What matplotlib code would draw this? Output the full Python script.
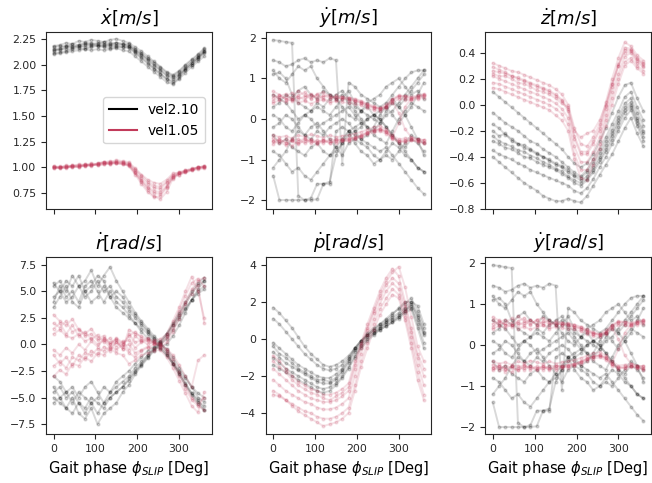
import numpy as np
import matplotlib
matplotlib.use("Agg")
import matplotlib.pyplot as plt
from matplotlib.lines import Line2D

# gait phase samples (deg)
phase = [0, 15, 30, 45, 60, 75, 90, 105, 120, 135, 150, 165, 180,
         195, 210, 225, 240, 255, 270, 285, 300, 315, 330, 345, 360]

# --- x velocity [m/s]
xd_fast = [
    [2.18, 2.19, 2.21, 2.20, 2.23, 2.22, 2.24, 2.23, 2.22, 2.24, 2.25, 2.23, 2.21, 2.17, 2.13, 2.08, 2.03, 1.98, 1.93, 1.90, 1.94, 2.00, 2.05, 2.10, 2.16],
    [2.10, 2.11, 2.12, 2.13, 2.14, 2.15, 2.14, 2.15, 2.14, 2.15, 2.16, 2.14, 2.13, 2.08, 2.03, 1.98, 1.93, 1.88, 1.83, 1.81, 1.86, 1.92, 1.98, 2.03, 2.08],
    [2.15, 2.14, 2.17, 2.18, 2.17, 2.19, 2.20, 2.18, 2.19, 2.20, 2.19, 2.19, 2.18, 2.13, 2.09, 2.04, 1.99, 1.94, 1.89, 1.86, 1.90, 1.96, 2.02, 2.07, 2.13],
    [2.11, 2.12, 2.13, 2.15, 2.16, 2.15, 2.17, 2.18, 2.17, 2.16, 2.17, 2.17, 2.16, 2.11, 2.06, 2.01, 1.96, 1.91, 1.86, 1.84, 1.89, 1.95, 2.00, 2.05, 2.11],
    [2.17, 2.18, 2.18, 2.20, 2.19, 2.21, 2.21, 2.20, 2.22, 2.21, 2.21, 2.20, 2.20, 2.14, 2.10, 2.05, 2.00, 1.95, 1.90, 1.88, 1.91, 1.97, 2.02, 2.07, 2.13],
    [2.13, 2.15, 2.15, 2.16, 2.18, 2.17, 2.18, 2.19, 2.18, 2.18, 2.18, 2.17, 2.17, 2.12, 2.07, 2.02, 1.96, 1.91, 1.86, 1.82, 1.87, 1.95, 2.00, 2.06, 2.12],
    [2.14, 2.16, 2.18, 2.17, 2.19, 2.20, 2.19, 2.21, 2.20, 2.19, 2.21, 2.20, 2.18, 2.15, 2.11, 2.06, 2.02, 1.97, 1.92, 1.89, 1.93, 1.99, 2.04, 2.09, 2.15],
]
xd_slow = [
    [1.00, 1.01, 0.99, 1.02, 1.00, 1.03, 1.01, 1.04, 1.05, 1.03, 1.06, 1.05, 1.04, 0.98, 0.92, 0.86, 0.82, 0.81, 0.86, 0.93, 0.95, 0.97, 0.99, 1.00, 1.01],
    [0.99, 1.00, 1.01, 1.00, 1.02, 1.01, 1.03, 1.02, 1.03, 1.05, 1.04, 1.03, 1.02, 0.95, 0.87, 0.80, 0.75, 0.74, 0.81, 0.91, 0.93, 0.95, 0.97, 0.98, 0.99],
    [1.01, 0.99, 1.00, 1.01, 1.01, 1.02, 1.02, 1.03, 1.04, 1.04, 1.05, 1.05, 1.03, 0.97, 0.90, 0.84, 0.80, 0.79, 0.85, 0.92, 0.94, 0.96, 0.98, 1.00, 1.01],
    [1.00, 1.00, 1.01, 1.01, 1.00, 1.02, 1.03, 1.02, 1.03, 1.04, 1.04, 1.04, 1.02, 0.94, 0.86, 0.78, 0.72, 0.69, 0.76, 0.89, 0.93, 0.95, 0.97, 0.99, 1.00],
    [0.99, 1.00, 1.00, 1.02, 1.02, 1.03, 1.02, 1.04, 1.05, 1.05, 1.07, 1.06, 1.05, 0.99, 0.93, 0.88, 0.85, 0.84, 0.88, 0.94, 0.95, 0.97, 0.98, 1.00, 1.00],
    [1.00, 0.99, 1.00, 1.00, 1.01, 1.01, 1.02, 1.03, 1.04, 1.03, 1.04, 1.03, 1.03, 0.95, 0.88, 0.81, 0.77, 0.76, 0.82, 0.91, 0.94, 0.96, 0.98, 0.99, 1.00],
    [1.01, 1.00, 1.02, 1.01, 1.03, 1.02, 1.04, 1.03, 1.05, 1.06, 1.05, 1.04, 1.01, 0.93, 0.84, 0.76, 0.71, 0.72, 0.80, 0.90, 0.94, 0.96, 0.98, 1.00, 1.01],
]

# --- lateral velocity [m/s] (also used for yaw rate panel)
yd_fast = [
    [1.95, 1.93, 1.90, 1.88, -1.90, -2.00, -2.00, -1.98, -1.60, -1.60, -0.30, -0.20, -0.30, -0.40, -0.50, -0.60, -0.70, -0.80, -0.70, -0.90, -1.10, -1.30, -1.50, -1.70, -1.85],
    [1.45, 1.40, 1.30, 1.35, 1.45, 1.50, 1.40, 1.45, 1.40, 1.50, 1.45, -1.10, 0.90, 0.80, 0.60, 0.50, 0.40, 0.30, 0.40, 0.60, 0.80, 1.00, 1.15, 1.20, 1.20],
    [-1.40, -2.00, -2.00, -2.00, -2.00, -2.00, -1.95, -1.60, -1.60, -1.55, -0.90, -0.60, -0.30, -0.20, -0.10, 0.00, 0.10, 0.00, -0.20, -0.40, -0.60, -0.80, -1.00, -1.20, -1.30],
    [1.10, 1.15, 1.00, 0.60, 0.40, 0.30, 0.20, 0.30, 0.20, 0.10, 0.30, 0.50, 0.70, 0.40, 0.20, 0.10, 0.00, -0.10, 0.20, 0.40, 0.30, 0.50, 0.70, 0.90, 1.10],
    [-1.20, -1.00, -0.80, -0.50, -0.30, -0.40, -0.20, -0.10, -0.30, -0.50, -0.70, -0.90, -0.60, -0.50, -0.60, -0.70, -0.90, -1.00, -0.80, -0.60, -0.70, -0.90, -1.00, -1.20, -1.30],
    [0.60, 0.50, 0.40, 0.20, 0.00, 0.10, 0.00, -0.20, -0.10, 0.00, 0.10, 0.20, 0.30, 0.10, -0.10, -0.20, -0.40, -0.50, -0.60, -0.30, 0.00, 0.20, 0.40, 0.30, 0.20],
    [0.10, 0.00, -0.20, -0.30, -0.10, 0.10, 0.20, 0.40, 0.30, 0.50, 0.60, 0.70, 0.50, 0.30, 0.20, 0.30, 0.10, 0.00, -0.20, -0.40, -0.60, -0.70, -0.50, -0.60, -0.80],
    [-0.40, -0.60, -0.50, -0.70, -0.80, -0.90, -0.70, -0.60, -0.80, -0.90, -0.80, -0.60, -0.40, -0.30, -0.20, 0.00, 0.10, 0.20, 0.30, 0.10, -0.10, 0.10, 0.30, 0.60, 0.90],
    [1.20, 1.00, 0.90, 1.10, 1.30, 1.20, 1.30, 1.00, 0.80, 0.60, 0.50, 0.30, 0.10, 0.00, 0.20, 0.40, 0.50, 0.60, 0.80, 0.90, 1.00, 0.80, 0.60, 0.70, 0.50],
    [-0.80, -0.90, -1.10, -1.30, -1.20, -1.40, -1.50, -1.30, -1.10, -0.90, -0.70, -0.50, -0.30, -0.60, -0.80, -0.90, -1.10, -1.00, -0.90, -1.00, -0.80, -0.60, -0.40, -0.50, -0.60],
    [0.30, 0.40, 0.60, 0.50, 0.70, 0.80, 0.60, 0.50, 0.70, 0.60, 0.50, 0.60, 0.40, 0.20, 0.00, -0.20, -0.30, -0.10, 0.10, 0.20, 0.40, 0.60, 0.80, 1.00, 1.20],
    [-0.20, -0.10, 0.10, 0.00, -0.20, -0.40, -0.50, -0.30, -0.40, -0.20, -0.10, 0.00, -0.10, -0.30, -0.50, -0.40, -0.20, 0.10, 0.30, 0.50, 0.30, 0.10, -0.20, -0.50, -0.90],
]
yd_slow = [
    [0.60, 0.50, 0.55, 0.65, 0.50, 0.55, 0.62, 0.48, 0.55, 0.60, 0.52, 0.50, 0.52, 0.48, 0.43, 0.36, 0.30, 0.25, 0.32, 0.47, 0.57, 0.56, 0.52, 0.56, 0.60],
    [0.45, 0.55, 0.62, 0.48, 0.58, 0.66, 0.52, 0.60, 0.50, 0.45, 0.58, 0.55, 0.48, 0.45, 0.40, 0.33, 0.28, 0.24, 0.30, 0.46, 0.55, 0.52, 0.50, 0.53, 0.56],
    [0.68, 0.60, 0.48, 0.55, 0.70, 0.58, 0.50, 0.62, 0.66, 0.55, 0.48, 0.55, 0.53, 0.50, 0.45, 0.38, 0.32, 0.28, 0.36, 0.50, 0.58, 0.57, 0.55, 0.58, 0.62],
    [0.52, 0.58, 0.50, 0.45, 0.55, 0.48, 0.60, 0.52, 0.58, 0.52, 0.55, 0.50, 0.47, 0.44, 0.40, 0.33, 0.28, 0.26, 0.30, 0.42, 0.15, -0.25, -0.45, -0.50, -0.52],
    [0.40, 0.46, 0.42, 0.50, 0.40, 0.45, 0.38, 0.44, 0.48, 0.40, 0.45, 0.42, 0.40, 0.38, 0.34, 0.28, 0.22, 0.20, 0.26, 0.40, 0.50, 0.48, 0.46, 0.50, 0.52],
    [-0.55, -0.60, -0.50, -0.55, -0.62, -0.50, -0.55, -0.58, -0.52, -0.55, -0.60, -0.55, -0.52, -0.48, -0.42, -0.35, -0.29, -0.25, -0.32, -0.47, -0.55, -0.52, -0.50, -0.53, -0.56],
    [-0.62, -0.52, -0.58, -0.66, -0.55, -0.48, -0.60, -0.52, -0.60, -0.50, -0.52, -0.50, -0.48, -0.45, -0.40, -0.32, -0.27, -0.24, -0.30, -0.45, -0.54, -0.56, -0.53, -0.55, -0.60],
    [-0.48, -0.55, -0.65, -0.52, -0.50, -0.60, -0.52, -0.62, -0.55, -0.58, -0.55, -0.53, -0.55, -0.50, -0.45, -0.38, -0.33, -0.30, -0.36, -0.50, -0.58, -0.55, -0.52, -0.56, -0.58],
    [-0.55, -0.50, -0.58, -0.52, -0.60, -0.55, -0.50, -0.56, -0.52, -0.60, -0.50, -0.52, -0.50, -0.46, -0.41, -0.34, -0.28, -0.26, -0.31, -0.44, -0.10, 0.30, 0.50, 0.55, 0.58],
    [-0.40, -0.45, -0.42, -0.48, -0.40, -0.44, -0.38, -0.42, -0.46, -0.40, -0.45, -0.42, -0.40, -0.36, -0.32, -0.26, -0.20, -0.18, -0.25, -0.40, -0.50, -0.48, -0.46, -0.50, -0.52],
]

# --- vertical velocity [m/s]
zd_fast = [
    [0.10, 0.06, 0.02, -0.02, -0.06, -0.10, -0.14, -0.18, -0.22, -0.26, -0.30, -0.34, -0.40, -0.45, -0.48, -0.45, -0.38, -0.28, -0.18, -0.06, 0.06, 0.15, 0.17, 0.05, -0.05],
    [-0.06, -0.10, -0.14, -0.17, -0.20, -0.24, -0.28, -0.30, -0.34, -0.37, -0.40, -0.44, -0.48, -0.52, -0.55, -0.50, -0.42, -0.34, -0.25, -0.15, -0.05, 0.06, 0.10, -0.02, -0.12],
    [-0.20, -0.24, -0.22, -0.28, -0.30, -0.33, -0.35, -0.38, -0.40, -0.43, -0.46, -0.48, -0.52, -0.55, -0.58, -0.55, -0.48, -0.40, -0.31, -0.22, -0.12, -0.02, 0.02, -0.10, -0.20],
    [-0.28, -0.30, -0.33, -0.34, -0.37, -0.40, -0.41, -0.44, -0.46, -0.48, -0.50, -0.53, -0.56, -0.60, -0.62, -0.58, -0.52, -0.44, -0.36, -0.27, -0.17, -0.06, -0.02, -0.14, -0.25],
    [-0.35, -0.38, -0.40, -0.42, -0.45, -0.47, -0.50, -0.52, -0.54, -0.56, -0.58, -0.60, -0.62, -0.66, -0.68, -0.64, -0.57, -0.48, -0.40, -0.30, -0.20, -0.10, -0.04, -0.16, -0.28],
    [-0.40, -0.44, -0.48, -0.52, -0.56, -0.60, -0.63, -0.66, -0.70, -0.72, -0.74, -0.74, -0.72, -0.74, -0.75, -0.70, -0.62, -0.54, -0.46, -0.38, -0.28, -0.18, -0.10, -0.22, -0.32],
    [-0.15, -0.18, -0.23, -0.26, -0.30, -0.31, -0.34, -0.37, -0.40, -0.42, -0.45, -0.47, -0.50, -0.54, -0.56, -0.52, -0.45, -0.37, -0.28, -0.19, -0.09, 0.01, 0.05, -0.06, -0.16],
    [-0.24, -0.28, -0.30, -0.32, -0.35, -0.36, -0.39, -0.41, -0.44, -0.46, -0.49, -0.51, -0.55, -0.58, -0.60, -0.57, -0.50, -0.42, -0.34, -0.24, -0.14, -0.04, 0.00, -0.12, -0.22],
]
zd_slow = [
    [0.32, 0.30, 0.28, 0.26, 0.25, 0.23, 0.21, 0.19, 0.17, 0.15, 0.12, 0.08, 0.00, -0.18, -0.30, -0.32, -0.25, -0.15, 0.02, 0.20, 0.36, 0.48, 0.45, 0.38, 0.34],
    [0.26, 0.25, 0.24, 0.22, 0.20, 0.18, 0.16, 0.14, 0.12, 0.10, 0.07, 0.03, -0.05, -0.26, -0.38, -0.38, -0.30, -0.20, -0.03, 0.14, 0.30, 0.42, 0.42, 0.35, 0.31],
    [0.22, 0.20, 0.18, 0.16, 0.14, 0.12, 0.10, 0.08, 0.06, 0.04, 0.01, -0.03, -0.10, -0.32, -0.44, -0.44, -0.36, -0.25, -0.08, 0.10, 0.24, 0.37, 0.40, 0.32, 0.29],
    [0.17, 0.16, 0.14, 0.12, 0.10, 0.08, 0.06, 0.04, 0.02, 0.00, -0.03, -0.07, -0.15, -0.38, -0.50, -0.50, -0.42, -0.30, -0.12, 0.05, 0.20, 0.33, 0.36, 0.30, 0.26],
    [0.29, 0.27, 0.25, 0.22, 0.21, 0.19, 0.17, 0.15, 0.13, 0.11, 0.08, 0.04, -0.03, -0.24, -0.36, -0.36, -0.28, -0.18, -0.01, 0.16, 0.31, 0.44, 0.43, 0.36, 0.32],
    [0.13, 0.12, 0.10, 0.08, 0.06, 0.04, 0.02, 0.00, -0.02, -0.04, -0.08, -0.12, -0.20, -0.42, -0.56, -0.58, -0.46, -0.34, -0.16, 0.00, 0.16, 0.30, 0.34, 0.28, 0.24],
    [0.24, 0.22, 0.22, 0.20, 0.17, 0.16, 0.14, 0.11, 0.10, 0.08, 0.05, 0.01, -0.02, -0.20, -0.25, -0.22, -0.20, -0.12, 0.00, 0.16, 0.30, 0.40, 0.41, 0.34, 0.30],
]

# --- roll rate [rad/s]
rd_fast = [
    [5.5, 6.0, 5.0, 6.5, 5.5, 6.0, 7.0, 5.5, 6.5, 7.3, 6.0, 5.0, 4.0, 3.0, 2.2, 1.5, 0.8, 0.2, -0.6, -1.6, -2.6, -3.6, -4.6, -5.4, -5.8],
    [4.5, 5.0, 4.0, 4.5, 5.5, 4.5, 5.0, 6.0, 5.0, 5.5, 4.5, 4.0, 3.2, 2.5, 1.8, 1.2, 0.5, 0.0, -0.8, -1.8, -2.8, -3.8, -4.8, -5.6, -6.2],
    [3.5, 4.5, 5.5, 4.0, 3.5, 5.0, 4.0, 4.5, 5.5, 4.5, 3.5, 3.0, 2.5, 2.0, 1.5, 1.0, 0.3, -0.3, -1.0, -1.8, -2.5, -3.2, -4.0, -4.6, -5.0],
    [5.8, 5.0, 6.0, 5.5, 6.5, 5.0, 5.5, 6.5, 6.0, 4.5, 5.0, 4.5, 3.5, 2.8, 2.0, 1.3, 0.6, 0.0, -0.4, -1.2, -2.2, -3.0, -4.0, -5.0, -5.4],
    [4.0, 5.5, 4.5, 5.0, 4.0, 5.5, 6.0, 5.0, 4.0, 5.0, 4.0, 3.5, 2.8, 2.0, 1.2, 0.6, 0.2, -0.2, 0.0, 0.8, 1.8, 3.0, 4.2, 5.2, 6.0],
    [-5.0, -5.5, -6.0, -5.0, -6.5, -7.0, -6.0, -7.5, -6.5, -6.0, -5.5, -4.5, -3.8, -2.8, -2.0, -1.3, -0.6, 0.0, 0.8, 1.8, 2.8, 3.8, 4.8, 5.6, 6.0],
    [-4.0, -5.0, -4.5, -5.5, -4.5, -5.0, -5.5, -6.5, -5.5, -5.0, -4.5, -4.0, -3.2, -2.5, -1.8, -1.0, -0.4, 0.2, 1.0, 2.0, 3.0, 4.0, 5.0, 5.8, 6.3],
    [-3.0, -3.5, -4.5, -4.0, -5.0, -4.0, -3.5, -4.5, -5.5, -4.5, -4.0, -3.5, -3.0, -2.2, -1.6, -1.0, -0.3, 0.3, 1.0, 1.8, 2.6, 3.4, 4.2, 4.8, 5.2],
    [-5.5, -5.0, -6.0, -6.5, -5.5, -6.0, -5.0, -5.5, -6.0, -5.0, -4.5, -4.0, -3.4, -2.6, -1.9, -1.2, -0.5, 0.0, 0.5, 1.4, 2.4, 3.3, 4.2, 5.0, 5.5],
    [-4.5, -4.0, -5.0, -4.5, -5.5, -6.5, -5.5, -5.0, -4.0, -4.5, -3.5, -3.0, -2.5, -1.8, -1.2, -0.6, -0.2, -0.4, -1.0, -1.8, -2.8, -3.8, -4.6, -5.2, -6.2],
]
rd_slow = [
    [2.0, 1.6, 2.2, 1.2, 1.5, 0.8, 1.0, 0.4, 0.6, 0.2, 0.5, 0.0, 0.8, 1.2, 0.6, 0.3, 0.0, 0.2, 0.8, 1.8, 3.2, 4.6, 5.8, 6.2, 5.5],
    [1.5, 2.0, 1.0, 1.8, 0.8, 1.2, 0.5, 0.9, 0.2, 0.6, -0.2, 0.3, -0.5, 0.8, 0.3, 0.6, 0.1, -0.1, 0.6, 1.5, 2.8, 4.0, 5.2, 6.0, 6.3],
    [2.8, 2.2, 1.8, 2.4, 1.4, 1.0, 1.5, 0.6, 0.8, 0.0, 0.4, -0.4, 1.4, 1.0, 0.8, 0.5, 0.4, 0.5, 1.0, 2.2, 3.5, 5.0, 6.4, 5.0, 2.5],
    [1.0, 1.4, 0.8, 0.6, 1.0, 0.3, 0.6, 0.0, 0.4, -0.3, 0.2, -0.2, 0.0, -0.8, -0.5, -0.2, -0.4, -0.3, 0.2, 1.2, 2.4, 3.8, 4.8, 5.6, 2.0],
    [-2.0, -1.6, -2.2, -1.2, -1.5, -0.8, -1.0, -0.4, -0.6, -0.2, -0.5, 0.0, -0.8, -1.2, -0.6, -0.3, 0.0, -0.2, -0.8, -1.8, -3.0, -4.2, -5.2, -5.8, -6.2],
    [-1.0, -1.8, -1.2, -2.0, -1.0, -1.4, -0.6, -1.0, -0.2, -0.6, 0.2, -0.4, 1.0, 0.2, 0.4, 0.0, 0.3, 0.0, -0.5, -1.4, -2.6, -3.8, -5.0, -5.6, -5.0],
    [-3.0, -2.4, -2.8, -1.8, -2.0, -1.2, -1.6, -0.8, -1.0, -0.4, -0.8, -1.0, -1.8, -1.5, -1.0, -0.8, -0.6, -0.5, -1.2, -2.2, -3.4, -4.6, -5.8, -6.4, -4.5],
    [-0.5, -1.0, -0.3, -0.8, 0.0, -0.5, 0.3, -0.2, 0.5, 0.0, 0.6, 0.2, 0.4, -0.3, 0.2, 0.4, 0.2, 0.0, -0.4, -1.0, -1.9, -3.0, -4.0, -1.5, -1.0],
]

# --- pitch rate [rad/s]
pd_fast = [
    [1.7, 1.4, 1.0, 0.6, 0.1, -0.4, -0.8, -1.1, -1.4, -1.5, -1.4, -1.2, -0.9, -0.5, -0.1, 0.2, 0.5, 0.8, 1.0, 1.3, 1.7, 2.0, 2.0, 1.2, 0.3],
    [1.1, 0.8, 0.4, 0.0, -0.4, -0.8, -1.1, -1.4, -1.6, -1.7, -1.6, -1.4, -1.0, -0.5, -0.1, 0.3, 0.6, 0.8, 1.1, 1.4, 1.6, 1.9, 2.2, 1.5, 0.6],
    [-0.2, -0.5, -0.8, -1.1, -1.4, -1.6, -1.8, -2.0, -2.1, -2.1, -1.9, -1.6, -1.1, -0.5, -0.1, 0.2, 0.4, 0.6, 0.9, 1.1, 1.3, 1.6, 1.8, 1.0, 0.2],
    [-0.7, -1.0, -1.3, -1.5, -1.7, -1.9, -2.1, -2.3, -2.4, -2.4, -2.2, -1.8, -1.3, -0.7, -0.3, 0.1, 0.3, 0.6, 0.8, 1.0, 1.2, 1.5, 1.7, 0.8, -0.2],
    [-1.0, -1.3, -1.6, -1.8, -2.0, -2.2, -2.4, -2.6, -2.7, -2.6, -2.4, -2.0, -1.5, -0.9, -0.4, 0.0, 0.3, 0.5, 0.7, 0.9, 1.1, 1.4, 1.6, 0.6, -0.5],
    [-1.4, -1.6, -1.8, -2.0, -2.2, -2.4, -2.6, -2.8, -2.9, -2.8, -2.5, -2.1, -1.6, -1.0, -0.5, -0.1, 0.2, 0.5, 0.7, 0.9, 1.2, 1.5, 1.9, 1.3, 0.4],
    [-0.4, -0.8, -1.0, -1.3, -1.6, -1.8, -2.0, -2.2, -2.2, -2.3, -2.1, -1.7, -1.2, -0.6, -0.2, 0.2, 0.5, 0.7, 0.9, 1.2, 1.4, 1.7, 2.0, 1.8, 0.8],
]
pd_slow = [
    [-0.9, -1.2, -1.6, -2.0, -2.3, -2.5, -2.7, -2.8, -3.0, -3.0, -2.9, -2.7, -2.4, -1.2, -0.2, 0.8, 1.7, 2.6, 3.3, 3.8, 3.4, 2.0, 0.6, -0.8, -1.6],
    [-1.6, -1.9, -2.2, -2.5, -2.8, -3.0, -3.2, -3.3, -3.4, -3.4, -3.3, -3.1, -2.8, -1.6, -0.5, 0.5, 1.4, 2.2, 2.9, 3.3, 3.0, 1.8, 0.4, -1.0, -2.0],
    [-2.2, -2.5, -2.8, -3.0, -3.2, -3.4, -3.5, -3.7, -3.8, -3.8, -3.7, -3.5, -3.2, -2.0, -0.8, 0.2, 1.1, 1.9, 2.6, 3.0, 2.7, 1.5, 0.1, -1.4, -2.5],
    [-2.8, -3.0, -3.3, -3.5, -3.7, -3.9, -4.0, -4.2, -4.3, -4.3, -4.2, -4.0, -3.7, -2.5, -1.2, -0.2, 0.8, 1.6, 2.2, 2.7, 2.4, 1.2, -0.2, -1.8, -3.0],
    [-3.0, -3.1, -3.3, -3.6, -3.9, -4.1, -4.3, -4.5, -4.7, -4.6, -4.5, -4.3, -4.0, -2.8, -1.5, -0.5, 0.5, 1.3, 1.9, 2.4, 2.2, 1.0, -0.5, -2.2, -3.3],
    [-1.2, -1.5, -1.8, -2.2, -2.5, -2.7, -2.9, -3.0, -3.2, -3.3, -3.1, -2.9, -2.6, -1.4, -0.3, 0.6, 1.5, 2.4, 3.1, 3.6, 3.9, 2.8, 1.2, -0.4, -1.2],
]

titles = [r'$\dot{x}[m/s]$', r'$\dot{y}[m/s]$', r'$\dot{z}[m/s]$',
          r'$\dot{r}[rad/s]$', r'$\dot{p}[rad/s]$', r'$\dot{y}[rad/s]$']
labels = ['vel2.10', 'vel1.05']
fast_color = 'black'
slow_color = '#c23a5a'

panels = [(xd_fast, xd_slow), (yd_fast, yd_slow), (zd_fast, zd_slow),
          (rd_fast, rd_slow), (pd_fast, pd_slow), (yd_fast, yd_slow)]
ylims = [(0.595, 2.318), (-2.22, 2.15), (-0.80, 0.56),
         (-8.44, 8.25), (-5.13, 4.43), (-2.17, 2.15)]
yticks = [np.arange(0.75, 2.3, 0.25), [-2, -1, 0, 1, 2], np.arange(-0.8, 0.41, 0.2),
          np.arange(-7.5, 7.6, 2.5), [-4, -2, 0, 2, 4], [-2, -1, 0, 1, 2]]

fig, axes = plt.subplots(2, 3, figsize=(6.52, 4.83), dpi=100, sharex=True)
fig.subplots_adjust(left=0.0706, right=0.9985, top=0.934, bottom=0.1014,
                    wspace=0.325, hspace=0.271)

for k, ax in enumerate(axes.flat):
    fast, slow = panels[k]
    for curve in fast:
        ax.plot(phase, curve, color=fast_color, alpha=0.15, lw=1.4,
                marker='o', markersize=2)
    for curve in slow:
        ax.plot(phase, curve, color=slow_color, alpha=0.15, lw=1.4,
                marker='o', markersize=2)
    ax.set_title(titles[k], fontsize=13)
    ax.set_ylim(*ylims[k])
    ax.set_yticks(yticks[k])
    ax.set_xlim(-18, 378)
    ax.set_xticks([0, 100, 200, 300])
    ax.tick_params(labelsize=7.8, colors='#262626', length=3.5)
    for s in ax.spines.values():
        s.set_color('#262626')
    if k >= 3:
        ax.set_xlabel(r'Gait phase $\phi_{SLIP}$ [Deg]', fontsize=10.5)

handles = [Line2D([0], [0], color=fast_color, lw=1.5),
           Line2D([0], [0], color=slow_color, lw=1.5)]
axes[0, 0].legend(handles, labels, loc='center right', fontsize=10)

fig.savefig('out.png', dpi=100)
